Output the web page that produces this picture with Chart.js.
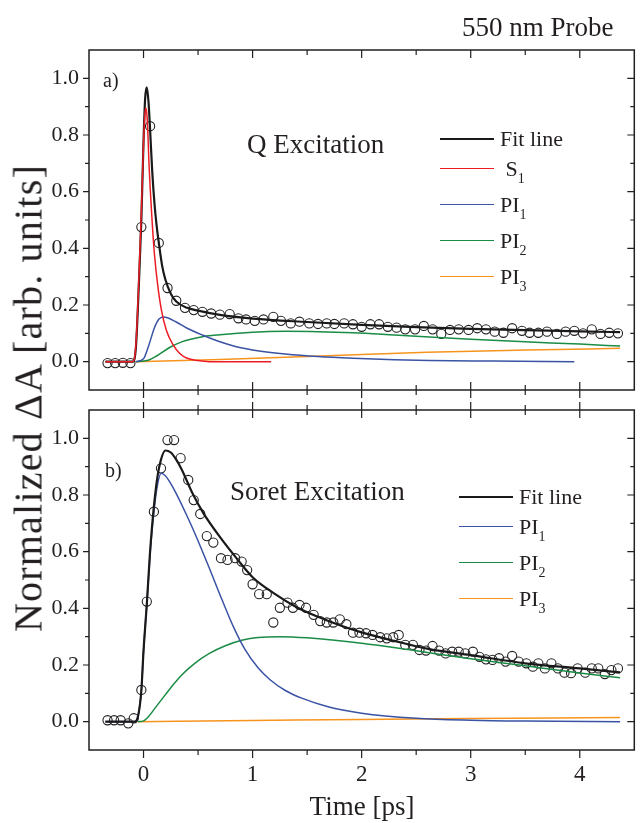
<!DOCTYPE html>
<html>
<head>
<meta charset="utf-8">
<title>550 nm Probe</title>
<script src="https://cdn.jsdelivr.net/npm/chart.js@4.4.1/dist/chart.umd.min.js"></script>
<style>
  body { margin: 0; background: #fff; }
  #wrap { position: relative; width: 640px; height: 823px; overflow: hidden;
          font-family: 'Liberation Serif', 'Times New Roman', serif; color: #231f20; }
  #wrap canvas { position: absolute; left: 0; }
  .txt { position: absolute; white-space: pre; line-height: 1; }
  .big { font-size: 27px; }
  .tag { font-size: 20px; }
  .lg-line { position: absolute; width: 54px; height: 0; }
  .lg-label { position: absolute; font-size: 22px; line-height: 1; white-space: pre; }
  .lg-label sub { font-size: 14px; vertical-align: -7px; line-height: 0; }
  #ytitle { position: absolute; left: 28px; top: 398px; font-size: 40px; letter-spacing: 1.2px; white-space: nowrap;
            transform: translate(-50%, -50%) rotate(-90deg); }
</style>
</head>
<body>
<div id="wrap">
  <canvas id="topChart" width="640" height="400" style="top:0"></canvas>
  <canvas id="botChart" width="640" height="423" style="top:400px"></canvas>

  <div class="txt big" style="left:462px; top:14px">550 nm Probe</div>
  <div class="txt tag" style="left:103px; top:70px">a)</div>
  <div class="txt big" style="left:247px; top:131px">Q Excitation</div>
  <div class="txt tag" style="left:105px; top:460px">b)</div>
  <div class="txt big" style="left:230px; top:478px">Soret Excitation</div>
  <div id="ytitle">Normalized ΔA [arb. units]</div>
  <div class="txt big" style="left:362px; top:793px; transform:translateX(-50%)">Time [ps]</div>
</div>

<script>
// ---- panel a) Q excitation, measured points ----
const topTime = [-0.33, -0.26, -0.19, -0.12, -0.02, 0.06, 0.14, 0.22, 0.30, 0.38, 0.46, 0.54, 0.62, 0.70,
  0.79, 0.87, 0.94, 1.02, 1.10, 1.19, 1.26, 1.35, 1.43, 1.52, 1.60, 1.68, 1.75, 1.84, 1.92, 2.00,
  2.08, 2.16, 2.24, 2.32, 2.40, 2.49, 2.57, 2.65, 2.73, 2.81, 2.89, 2.98, 3.06, 3.14, 3.22, 3.30,
  3.38, 3.47, 3.54, 3.62, 3.70, 3.79, 3.87, 3.95, 4.03, 4.11, 4.19, 4.27, 4.35];
const topSignal = [-0.005, -0.005, -0.004, -0.005, 0.475, 0.831, 0.419, 0.26, 0.215, 0.19, 0.182, 0.176, 0.170, 0.166,
  0.168, 0.153, 0.149, 0.144, 0.149, 0.158, 0.144, 0.135, 0.141, 0.135, 0.133, 0.135, 0.133, 0.135, 0.132, 0.123,
  0.132, 0.132, 0.123, 0.12, 0.114, 0.114, 0.126, 0.114, 0.098, 0.112, 0.114, 0.112, 0.118, 0.114, 0.106, 0.102,
  0.118, 0.109, 0.102, 0.102, 0.106, 0.098, 0.106, 0.109, 0.1, 0.114, 0.098, 0.102, 0.1];

// panel a) fit and its components
const topFitT = [-0.35, -0.10, -0.07, -0.04, -0.02, 0.00, 0.015, 0.03, 0.045, 0.06, 0.08, 0.10, 0.12, 0.14, 0.17,
  0.20, 0.25, 0.30, 0.40, 0.50, 0.70, 1.00, 1.50, 2.00, 2.50, 3.00, 3.50, 4.00, 4.37];
const topFit = [0, 0, 0.05, 0.30, 0.50, 0.78, 0.93, 0.968, 0.92, 0.82, 0.67, 0.56, 0.48, 0.42, 0.34,
  0.29, 0.24, 0.212, 0.19, 0.18, 0.165, 0.152, 0.14, 0.13, 0.122, 0.116, 0.111, 0.107, 0.104];
const topS1T = [-0.35, -0.10, -0.07, -0.04, -0.02, 0.00, 0.012, 0.022, 0.035, 0.05, 0.075, 0.10, 0.13, 0.165, 0.21,
  0.27, 0.33, 0.40, 0.50, 0.60, 1.17];
const topS1 = [0, 0, 0.06, 0.32, 0.53, 0.77, 0.87, 0.895, 0.85, 0.70, 0.52, 0.38, 0.27, 0.18, 0.11,
  0.06, 0.03, 0.012, 0.004, 0, 0];
const topPI1T = [-0.07, 0.00, 0.05, 0.10, 0.14, 0.18, 0.22, 0.30, 0.40, 0.54, 0.70, 0.85, 1.06, 1.30, 1.60,
  1.92, 2.30, 2.62, 3.20, 3.95];
const topPI1 = [0, 0.01, 0.06, 0.12, 0.15, 0.158, 0.155, 0.14, 0.118, 0.094, 0.07, 0.053, 0.038, 0.027, 0.018,
  0.012, 0.007, 0.004, 0.002, 0];
const topPI2T = [-0.07, 0.00, 0.05, 0.12, 0.24, 0.35, 0.54, 0.70, 1.00, 1.30, 1.60, 1.92, 2.30, 2.62, 3.00,
  3.50, 4.00, 4.37];
const topPI2 = [0, 0.002, 0.006, 0.02, 0.05, 0.07, 0.088, 0.095, 0.104, 0.107, 0.106, 0.102, 0.094, 0.087, 0.079,
  0.07, 0.062, 0.055];
const topPI3T = [-0.07, 0.70, 1.50, 2.60, 3.50, 4.37];
const topPI3 = [0, 0.008, 0.018, 0.033, 0.041, 0.047];

// ---- panel b) Soret excitation, measured points ----
const botTime = [-0.33, -0.27, -0.21, -0.14, -0.09, -0.02, 0.03, 0.095, 0.16, 0.22, 0.28, 0.34, 0.41, 0.46, 0.52,
  0.58, 0.64, 0.71, 0.77, 0.84, 0.90, 0.95, 1.00, 1.06, 1.13, 1.19, 1.25, 1.32, 1.37, 1.43,
  1.49, 1.56, 1.62, 1.68, 1.74, 1.80, 1.86, 1.92, 1.98, 2.04, 2.10, 2.17, 2.23, 2.29, 2.34,
  2.40, 2.47, 2.53, 2.59, 2.65, 2.71, 2.77, 2.83, 2.89, 2.95, 3.02, 3.08, 3.14, 3.20, 3.26,
  3.32, 3.38, 3.44, 3.51, 3.57, 3.62, 3.68, 3.74, 3.80, 3.86, 3.92, 3.98, 4.05, 4.11, 4.17,
  4.23, 4.29, 4.35];
const botSignal = [0.005, 0.005, 0.005, -0.006, 0.012, 0.112, 0.424, 0.741, 0.894, 0.994, 0.994, 0.93, 0.853, 0.782, 0.733,
  0.655, 0.632, 0.577, 0.571, 0.577, 0.565, 0.535, 0.485, 0.45, 0.45, 0.35, 0.402, 0.42, 0.402, 0.412,
  0.402, 0.377, 0.355, 0.35, 0.35, 0.361, 0.344, 0.314, 0.314, 0.312, 0.306, 0.298, 0.294, 0.298, 0.306,
  0.271, 0.271, 0.253, 0.251, 0.267, 0.251, 0.241, 0.247, 0.247, 0.241, 0.247, 0.229, 0.22, 0.218, 0.224,
  0.212, 0.232, 0.212, 0.206, 0.194, 0.206, 0.188, 0.206, 0.188, 0.173, 0.171, 0.188, 0.173, 0.188, 0.188,
  0.168, 0.182, 0.188];

// panel b) fit and its components
const botFitT = [-0.35, -0.08, -0.05, -0.02, 0.00, 0.031, 0.06, 0.095, 0.13, 0.16, 0.20, 0.25, 0.30, 0.35, 0.45,
  0.55, 0.70, 0.85, 1.00, 1.20, 1.40, 1.60, 1.80, 2.00, 2.30, 2.62, 3.00, 3.50, 4.00, 4.37];
const botFit = [0, 0, 0.02, 0.11, 0.25, 0.42, 0.60, 0.76, 0.87, 0.925, 0.957, 0.95, 0.925, 0.89, 0.805,
  0.735, 0.652, 0.578, 0.51, 0.452, 0.405, 0.37, 0.34, 0.315, 0.285, 0.256, 0.235, 0.206, 0.188, 0.174];
const botPI1T = [-0.35, -0.08, -0.05, -0.02, 0.00, 0.031, 0.06, 0.095, 0.13, 0.162, 0.20, 0.25, 0.30, 0.40, 0.47,
  0.60, 0.72, 0.83, 0.93, 1.05, 1.16, 1.30, 1.45, 1.70, 2.00, 2.50, 3.00, 3.50, 4.37];
const botPI1 = [0, 0, 0.02, 0.11, 0.25, 0.42, 0.59, 0.74, 0.84, 0.877, 0.868, 0.84, 0.805, 0.725, 0.665,
  0.545, 0.43, 0.33, 0.255, 0.19, 0.148, 0.11, 0.083, 0.052, 0.03, 0.012, 0.005, 0.002, 0];
const botPI2T = [-0.05, 0.00, 0.05, 0.10, 0.16, 0.25, 0.35, 0.47, 0.60, 0.75, 0.91, 1.05, 1.25, 1.50, 2.00,
  2.50, 3.00, 3.50, 4.00, 4.37];
const botPI2 = [0, 0.003, 0.02, 0.045, 0.075, 0.12, 0.165, 0.206, 0.24, 0.268, 0.288, 0.297, 0.30, 0.296, 0.277,
  0.25, 0.222, 0.197, 0.172, 0.155];
const botPI3T = [-0.05, 1.0, 2.0, 3.0, 4.37];
const botPI3 = [0, 0.004, 0.008, 0.011, 0.015];

// axis ticks
const xTicks = [0, 1, 2, 3, 4];
const yTicks = [0.0, 0.2, 0.4, 0.6, 0.8, 1.0];

const FONT = "'Liberation Serif', 'Times New Roman', serif";
const INK = '#231f20';
const COLORS = { fit: '#1a1a1a', s1: '#ed1c24', pi1: '#3a53a4', pi2: '#1b8c45', pi3: '#f7941d' };

const pts = (xs, ys) => xs.map((x, i) => ({ x: x, y: ys[i] }));

function curve(label, xs, ys, color, width) {
  return {
    label: label, data: pts(xs, ys), showLine: true, borderColor: color, borderWidth: width,
    pointRadius: 0, cubicInterpolationMode: 'monotone', fill: false
  };
}

function circles(xs, ys) {
  return {
    label: 'data', data: pts(xs, ys), showLine: false, pointStyle: 'circle', pointRadius: 4.6,
    pointBorderColor: '#222', pointBorderWidth: 1.1, pointBackgroundColor: 'rgba(0,0,0,0)'
  };
}

// box frame with Origin-style tick marks drawn from the chart's own scales
const framePlugin = {
  id: 'frame',
  afterDatasetsDraw(chart, args, opts) {
    const { ctx, chartArea: a } = chart;
    const xs = chart.scales.x, ys = chart.scales.y;
    ctx.save();
    ctx.strokeStyle = INK;
    ctx.lineWidth = 1.5;
    ctx.strokeRect(a.left, a.top, a.right - a.left, a.bottom - a.top);
    ctx.lineWidth = 1.2;
    ctx.beginPath();
    for (let k = 1; k < 10; k++) {
      const v = -0.5 + k * 0.5;
      const px = xs.getPixelForValue(v);
      const len = k % 2 === 1 ? 8 : 5;
      if (opts.topIn) { ctx.moveTo(px, a.top); ctx.lineTo(px, a.top + len); }
      if (opts.topOut) { ctx.moveTo(px, a.top); ctx.lineTo(px, a.top - len); }
      if (opts.bottomIn) { ctx.moveTo(px, a.bottom); ctx.lineTo(px, a.bottom - len); }
      if (opts.bottomOut) { ctx.moveTo(px, a.bottom); ctx.lineTo(px, a.bottom + len); }
    }
    for (let k = 1; k < 12; k++) {
      const py = ys.getPixelForValue(-0.1 + k * 0.1);
      const major = k % 2 === 1;
      ctx.moveTo(a.left, py); ctx.lineTo(a.left - (major ? 6 : 4), py);
      ctx.moveTo(a.right, py); ctx.lineTo(a.right - (major ? 7 : 4), py);
    }
    ctx.stroke();
    ctx.restore();
  }
};

function makeChart(id, datasets, showXLabels, padTop, padBottom, xHeight, frameOpts) {
  return new Chart(document.getElementById(id), {
    type: 'scatter',
    data: { datasets: datasets },
    options: {
      responsive: false, animation: false, events: [],
      layout: { padding: { left: 0, right: 4, top: padTop, bottom: padBottom } },
      plugins: { legend: { display: false }, tooltip: { enabled: false }, frame: frameOpts },
      scales: {
        x: {
          type: 'linear', min: -0.5, max: 4.5,
          grid: { display: false }, border: { display: false },
          afterBuildTicks: s => { s.ticks = xTicks.map(v => ({ value: v })); },
          ticks: { display: showXLabels, color: INK, padding: 3, font: { family: FONT, size: 23 } },
          afterFit: s => { s.height = xHeight; s.paddingLeft = 0; s.paddingRight = 0; }
        },
        y: {
          type: 'linear', min: -0.1, max: 1.1,
          grid: { display: false }, border: { display: false },
          afterBuildTicks: s => { s.ticks = yTicks.map(v => ({ value: v })); },
          ticks: { color: INK, padding: 2, font: { family: FONT, size: 22 }, callback: v => v.toFixed(1) },
          afterFit: s => { s.width = 89; s.paddingTop = 0; s.paddingBottom = 0; }
        }
      }
    },
    plugins: [framePlugin]
  });
}

const topChart = makeChart('topChart', [
  curve('S1', topS1T, topS1, COLORS.s1, 1.5),
  curve('Fit line', topFitT, topFit, COLORS.fit, 2.2),
  curve('PI1', topPI1T, topPI1, COLORS.pi1, 1.5),
  curve('PI2', topPI2T, topPI2, COLORS.pi2, 1.5),
  curve('PI3', topPI3T, topPI3, COLORS.pi3, 1.5),
  circles(topTime, topSignal)
], false, 50, 10, 0, { topIn: true, bottomIn: true, bottomOut: true });

const botChart = makeChart('botChart', [
  curve('Fit line', botFitT, botFit, COLORS.fit, 2.2),
  curve('PI1', botPI1T, botPI1, COLORS.pi1, 1.5),
  curve('PI2', botPI2T, botPI2, COLORS.pi2, 1.5),
  curve('PI3', botPI3T, botPI3, COLORS.pi3, 1.5),
  circles(botTime, botSignal)
], true, 10, 0, 73, { topIn: true, topOut: true, bottomOut: true });

// legends built from the datasets; names ending in a digit get it as a subscript
function buildLegend(chart, order, rowsY, lineLeft, labelLeft) {
  const wrap = document.getElementById('wrap');
  order.forEach((name, i) => {
    const ds = chart.data.datasets.find(d => d.label === name);
    const line = document.createElement('div');
    line.className = 'lg-line';
    line.style.left = lineLeft + 'px';
    line.style.top = (rowsY[i] - ds.borderWidth / 2) + 'px';
    line.style.borderTop = ds.borderWidth + 'px solid ' + ds.borderColor;
    wrap.appendChild(line);
    const lab = document.createElement('div');
    lab.className = 'lg-label';
    lab.style.left = labelLeft + 'px';
    lab.style.top = (rowsY[i] - 11) + 'px';
    lab.innerHTML = (name === 'S1' ? ' ' : '') + name.replace(/^([A-Za-z]+)(\d)$/, '$1<sub>$2</sub>');
    wrap.appendChild(lab);
  });
}

buildLegend(topChart, ['Fit line', 'S1', 'PI1', 'PI2', 'PI3'], [139, 169, 205, 241, 277], 440, 500);
buildLegend(botChart, ['Fit line', 'PI1', 'PI2', 'PI3'], [497, 527, 563, 599], 459, 519);
</script>
</body>
</html>
